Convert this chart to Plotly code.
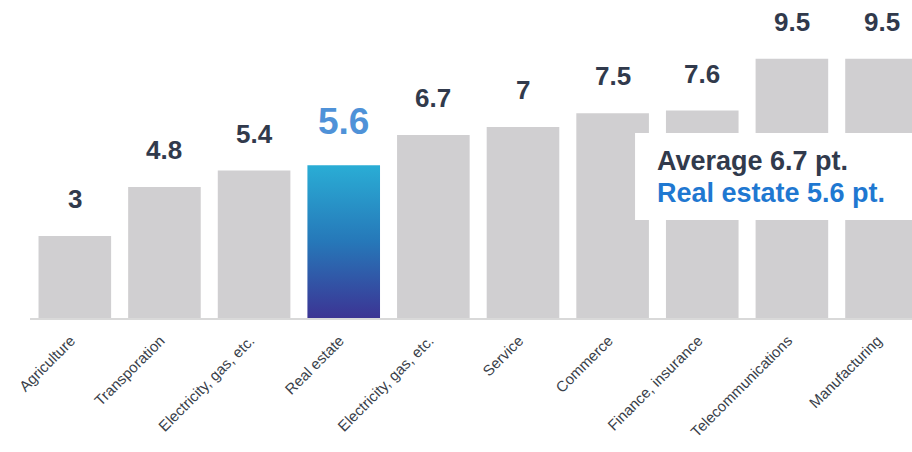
import plotly.graph_objects as go

categories = ["Agriculture", "Transporation", "Electricity, gas, etc.", "Real estate",
              "Electricity, gas, etc.", "Service", "Commerce", "Finance, insurance",
              "Telecommunications", "Manufacturing"]
values = [3, 4.8, 5.4, 5.6, 6.7, 7, 7.5, 7.6, 9.5, 9.5]
value_labels = ["3", "4.8", "5.4", "5.6", "6.7", "7", "7.5", "7.6", "9.5", "9.5"]
highlight = "Real estate"
average_value = 6.7

BAR_W = 0.81
GRAY = "#D0CFD1"
DARK = "#313A4C"
LABEL_BLUE = "#4F92D8"
NOTE_BLUE = "#1F78D1"
FONT = "Arial, Liberation Sans, sans-serif"

xs = list(range(len(categories)))
hi = categories.index(highlight)

fig = go.Figure()

# plain gray bars for every sector except the highlighted one
fig.add_trace(go.Bar(
    x=[x for x in xs if x != hi],
    y=[v for i, v in enumerate(values) if i != hi],
    width=BAR_W,
    marker=dict(color=GRAY, line=dict(width=0)),
    hoverinfo="skip",
    showlegend=False,
))

# highlighted bar with a vertical gradient fill
hv = values[hi]
fig.add_trace(go.Scatter(
    x=[hi - BAR_W / 2, hi + BAR_W / 2, hi + BAR_W / 2, hi - BAR_W / 2, hi - BAR_W / 2],
    y=[0, 0, hv, hv, 0],
    mode="lines",
    line=dict(width=0),
    fill="toself",
    fillgradient=dict(type="vertical",
                      colorscale=[[0, "#3C3494"], [0.5, "#2678B9"], [1, "#2AADD5"]]),
    hoverinfo="skip",
    showlegend=False,
))

annotations = []
for i, (v, t) in enumerate(zip(values, value_labels)):
    big = i == hi
    annotations.append(dict(
        x=i, y=v, xref="x", yref="y", text=f"<b>{t}</b>", showarrow=False,
        yanchor="middle", yshift=44 if big else 37,
        font=dict(family=FONT, size=37 if big else 26, color=LABEL_BLUE if big else DARK),
    ))

# summary note box
annotations.append(dict(
    x=0.709, y=0.494, xref="paper", yref="paper", xanchor="left", yanchor="middle",
    text=f"<b>Average {average_value} pt.</b>", showarrow=False,
    font=dict(family=FONT, size=27, color=DARK),
))
annotations.append(dict(
    x=0.709, y=0.392, xref="paper", yref="paper", xanchor="left", yanchor="middle",
    text=f"<b>{highlight} {hv} pt.</b>", showarrow=False,
    font=dict(family=FONT, size=27, color=NOTE_BLUE),
))

fig.update_layout(
    width=912, height=452,
    margin=dict(l=30, r=0, t=0, b=134),
    paper_bgcolor="white", plot_bgcolor="white",
    showlegend=False,
    xaxis=dict(
        range=[-0.5, 9.34], tickmode="array", tickvals=xs, ticktext=categories,
        tickangle=-45, showgrid=False, zeroline=False, ticks="",
        showline=True, linecolor="#D9D9D9", linewidth=2,
        tickfont=dict(family=FONT, size=15, color="#3A3F4A"),
        ticklabelstandoff=6, ticklabelshift=-4,
        fixedrange=True,
    ),
    yaxis=dict(range=[0, 11.65], visible=False, fixedrange=True),
    shapes=[dict(type="rect", xref="paper", yref="paper",
                 x0=0.686, x1=1.0, y0=0.308, y1=0.582,
                 fillcolor="white", line=dict(width=0), layer="above")],
    annotations=annotations,
)

fig.write_html("out.html")
